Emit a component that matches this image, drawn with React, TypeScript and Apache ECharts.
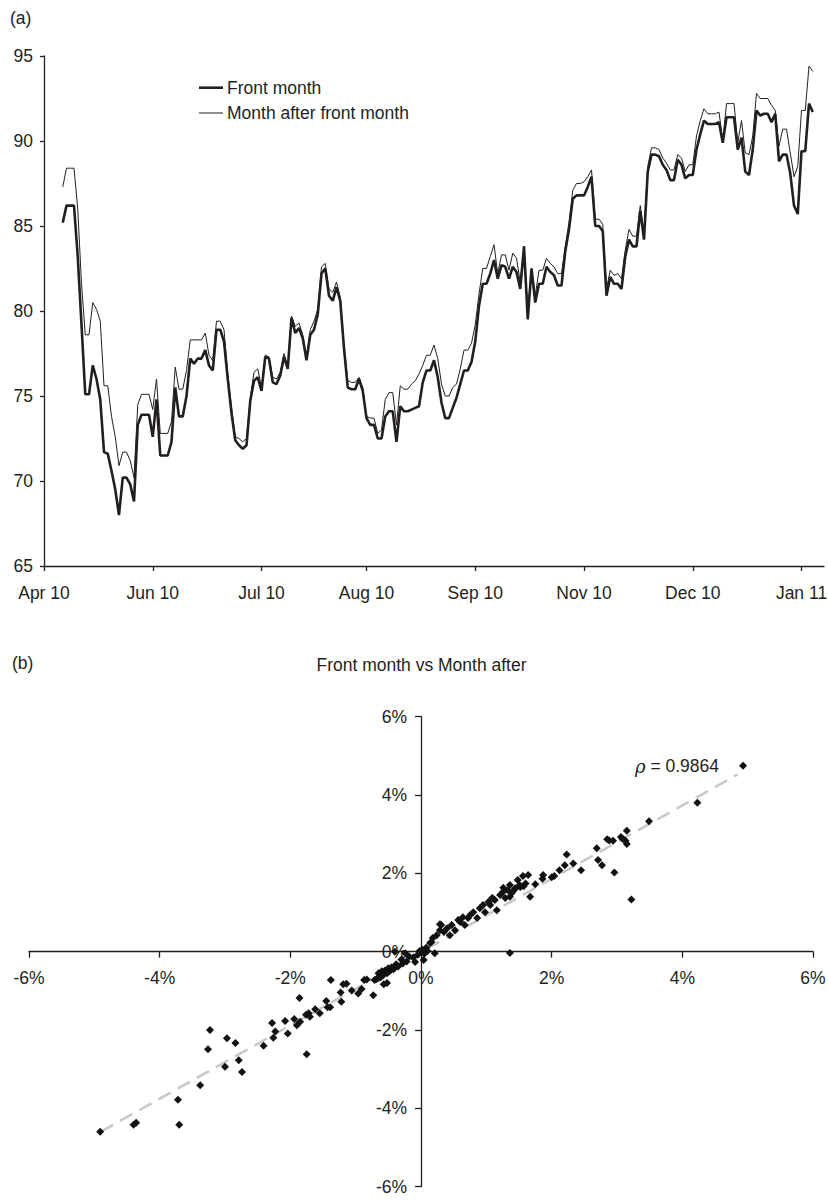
import React, { useEffect, useRef } from 'react';
import * as echarts from 'echarts';

const FONT = '"Liberation Sans", Arial, Helvetica, sans-serif';
const INK = '#231f20';

// ---------- (a) price series ----------
const seriesNames = ['Front month', 'Month after front month'];
const dayCount = 209; // trading-day categories on the axis
const leadBlank = 5; // categories before the first observation
const tickIdx = [0, 29, 58, 86, 115, 144, 173, 202];
const tickLabels = ['Apr 10', 'Jun 10', 'Jul 10', 'Aug 10', 'Sep 10', 'Nov 10', 'Dec 10', 'Jan 11'];
const yTicks = { min: 65, max: 95, step: 5 };

const frontMonth = [
  85.2, 86.2, 86.2, 86.2, 83.2, 79.2, 75.1, 75.1, 76.8, 76.0,
  74.8, 71.7, 71.6, 70.6, 69.5, 68.0, 70.2, 70.2, 69.8, 68.8,
  73.3, 73.9, 73.9, 73.9, 72.6, 74.8, 71.5, 71.5, 71.5, 72.3,
  75.5, 73.8, 73.8, 75.0, 77.2, 76.9, 77.2, 77.2, 77.7, 76.8,
  76.5, 78.9, 78.9, 78.2, 76.0, 74.0, 72.4, 72.1, 71.9, 72.1,
  74.7, 75.9, 76.1, 75.3, 77.3, 77.2, 75.8, 75.7, 76.2, 77.3,
  76.6, 79.6, 78.7, 79.0, 78.4, 77.1, 78.6, 78.9, 79.8, 82.2,
  82.5, 80.9, 80.6, 81.4, 80.6, 77.8, 75.5, 75.4, 75.4, 76.0,
  75.3, 73.7, 73.3, 73.3, 72.5, 72.5, 73.8, 74.1, 74.1, 72.3,
  74.4, 74.1, 74.1, 74.2, 74.3, 74.4, 75.8, 76.5, 76.5, 77.1,
  76.1, 74.6, 73.7, 73.7, 74.3, 74.9, 75.7, 76.5, 76.5, 77.0,
  78.2, 80.3, 81.6, 81.6, 82.2, 83.0, 81.9, 82.7, 82.6, 81.9,
  82.6, 82.3, 81.3, 83.8, 79.5, 82.5, 80.5, 81.6, 81.6, 82.6,
  82.3, 82.1, 81.5, 81.5, 83.5, 84.8, 86.6, 86.8, 86.8, 86.8,
  87.3, 87.9, 85.0, 85.0, 84.7, 80.9, 82.0, 81.6, 81.6, 81.3,
  83.2, 84.2, 83.8, 83.8, 85.9, 84.2, 88.2, 89.2, 89.2, 89.1,
  88.6, 88.3, 87.7, 87.7, 88.9, 88.6, 87.8, 88.0, 88.0, 89.5,
  90.4, 91.2, 91.0, 91.0, 91.0, 91.1, 89.9, 91.4, 91.4, 91.4,
  89.5, 90.2, 88.2, 88.0, 89.5, 91.8, 91.5, 91.6, 91.6, 91.1,
  91.6, 88.8, 89.2, 89.2, 88.1, 86.2, 85.7, 89.4, 89.4, 92.2, 91.7,
];

const monthAfter = [
  87.3, 88.4, 88.4, 88.4, 86.0, 81.6, 78.6, 78.6, 80.5, 80.1,
  79.4, 75.6, 75.6, 73.8, 72.6, 70.9, 71.7, 71.7, 71.2, 70.2,
  74.5, 75.1, 75.1, 75.1, 74.2, 76.0, 72.8, 72.8, 72.8, 73.5,
  76.7, 75.4, 75.4, 76.5, 78.3, 78.3, 78.3, 78.3, 78.7, 77.4,
  77.1, 79.4, 79.4, 78.9, 76.3, 74.3, 72.6, 72.5, 72.3, 72.5,
  74.9, 76.4, 76.6, 75.5, 77.4, 77.3, 76.1, 76.0, 76.4, 77.5,
  76.7, 79.7, 79.1, 79.3, 78.6, 77.3, 78.9, 79.4, 80.1, 82.6,
  82.8, 81.3, 81.1, 81.7, 80.8, 78.0, 75.9, 75.8, 75.8, 76.1,
  75.5, 73.8, 73.7, 73.7, 72.8, 73.0, 74.8, 75.2, 75.2, 73.3,
  75.6, 75.4, 75.4, 75.7, 75.9, 76.3, 76.8, 77.4, 77.4, 78.0,
  77.2, 75.7, 75.0, 75.0, 75.5, 75.7, 76.6, 77.7, 77.7, 78.1,
  79.2, 81.0, 82.5, 82.5, 83.2, 83.9, 82.2, 83.3, 83.3, 82.4,
  83.4, 83.1, 81.7, 83.8, 80.1, 82.5, 80.9, 82.4, 82.4, 83.1,
  82.8, 82.6, 82.2, 82.2, 83.8, 85.2, 87.1, 87.5, 87.5, 87.6,
  87.9, 88.3, 85.4, 85.4, 85.1, 81.3, 82.4, 82.1, 82.2, 81.9,
  83.6, 84.8, 84.4, 84.4, 86.2, 84.6, 88.5, 89.6, 89.6, 89.5,
  89.0, 88.7, 88.3, 88.3, 89.2, 89.0, 88.2, 88.6, 88.6, 90.3,
  91.2, 91.9, 91.6, 91.6, 91.6, 91.7, 90.0, 92.2, 92.2, 92.2,
  89.9, 91.2, 89.3, 89.2, 90.3, 92.8, 92.5, 92.5, 92.5, 92.1,
  91.8, 89.7, 90.7, 90.7, 89.3, 87.9, 88.5, 91.8, 91.8, 94.4, 94.1,
];

// ---------- (b) daily returns scatter (percent) ----------
const scatterTitle = 'Front month vs Month after';
const pctRange = { min: -6, max: 6, step: 2 };
const rho = 0.9864;
const fitSlope = 0.936;
const fitIntercept = -0.01;
const fitXRange = [-4.9, 4.85];

const scatterPts: number[][] = [
  [4.93, 4.75], [4.23, 3.80], [3.49, 3.33], [3.15, 3.09], [3.15, 2.75], [3.13, 2.83], [3.06, 2.93], [3.09, 2.88],
  [2.94, 2.83], [2.88, 2.84], [2.85, 2.87], [2.69, 2.64], [2.71, 2.34], [2.77, 2.21], [2.96, 2.02], [3.22, 1.33],
  [2.45, 2.08], [2.33, 2.25], [2.23, 2.48], [2.20, 2.21], [2.12, 2.08], [2.04, 1.93], [2.00, 1.90], [1.87, 1.96],
  [1.86, 1.86], [1.75, 1.72], [1.60, 1.74], [1.57, 1.67], [1.52, 1.65], [1.44, 1.60], [1.26, 1.63], [1.10, 1.36],
  [1.67, 1.40], [1.36, 1.40], [1.36, -0.03],
  [1.64, 1.96], [1.56, 1.93], [1.51, 1.70], [1.48, 1.83], [1.44, 1.62], [1.39, 1.50], [1.36, 1.70], [1.33, 1.57],
  [1.29, 1.37], [1.25, 1.52], [1.21, 1.45], [1.16, 1.06], [1.13, 1.32], [1.09, 1.37], [1.06, 1.19], [1.03, 1.27],
  [0.98, 1.01], [0.95, 1.19], [0.90, 1.11], [0.86, 0.86], [0.80, 1.01], [0.75, 0.93], [0.72, 0.86], [0.67, 0.68],
  [0.64, 0.88], [0.60, 0.76], [0.57, 0.81], [0.52, 0.55], [0.47, 0.68], [0.44, 0.42], [0.40, 0.60], [0.35, 0.50],
  [0.31, 0.68], [0.29, 0.55], [0.24, 0.42], [0.18, 0.35], [0.14, 0.22], [0.29, 0.70], [0.16, 0.25], [0.21, -0.04],
  [0.04, -0.21], [0.10, 0.02], [0.05, -0.05], [0.08, 0.10], [-0.02, 0.02], [0.02, 0.05],
  [-0.09, -0.26], [-0.24, -0.04], [-0.40, 0.00], [-0.05, -0.08], [-0.12, -0.15], [-0.18, -0.12], [-0.22, -0.25],
  [-0.28, -0.30], [-0.30, -0.20], [-0.35, -0.38], [-0.38, -0.32], [-0.42, -0.45], [-0.45, -0.40], [-0.48, -0.50],
  [-0.50, -0.42], [-0.52, -0.55], [-0.55, -0.48], [-0.58, -0.60], [-0.60, -0.50], [-0.62, -0.66], [-0.65, -0.55],
  [-0.68, -0.70], [-0.57, -0.83], [-0.52, -0.80],
  [-0.66, -0.68], [-0.71, -0.72], [-0.73, -1.11], [-0.83, -0.71], [-0.87, -0.72], [-0.91, -0.95], [-0.96, -1.07],
  [-1.06, -0.99], [-1.14, -0.82], [-1.19, -0.83], [-1.22, -1.28], [-1.23, -1.04], [-1.38, -0.72], [-1.39, -1.42],
  [-1.43, -1.42], [-1.45, -1.26], [-1.55, -1.57], [-1.62, -1.47], [-1.70, -1.66], [-1.72, -1.57], [-1.76, -1.61],
  [-1.75, -2.62], [-1.86, -1.18], [-1.85, -1.79], [-1.90, -1.88], [-1.94, -1.72], [-2.04, -2.09], [-2.08, -1.77],
  [-2.26, -2.20], [-2.23, -2.04], [-2.28, -1.82], [-2.41, -2.40], [-2.74, -3.07], [-3.00, -2.94], [-2.79, -2.77],
  [-2.84, -2.33], [-2.97, -2.21], [-3.26, -2.49], [-3.23, -2.00], [-3.38, -3.41], [-3.70, -4.42], [-3.72, -3.78],
  [-4.36, -4.37], [-4.40, -4.42], [-4.91, -4.60],
];

// layout of the two plot areas
const gridA = { left: 44, top: 56, width: 780, height: 510 };
const gridB = { left: 29, top: 716.7, width: 784, height: 470 };

export default function App() {
  const ref = useRef<HTMLDivElement>(null);

  useEffect(() => {
    if (!ref.current) return;
    const chart = echarts.init(ref.current, undefined, { renderer: 'svg' });

    const categories = Array.from({ length: dayCount }, (_, i) => String(i));
    const pad = (arr: number[]) => {
      const out: (number | null)[] = new Array(dayCount).fill(null);
      arr.forEach((v, i) => (out[leadBlank + i] = v));
      return out;
    };
    const isTick = (i: number) => tickIdx.indexOf(i) >= 0;
    const fitLine = fitXRange.map((x) => [x, fitSlope * x + fitIntercept]);

    // axes of (b) cross at zero: shift them inwards from the grid edges
    const zeroFrac = (0 - pctRange.min) / (pctRange.max - pctRange.min);
    const xAxisOffset = -gridB.height * zeroFrac;
    const yAxisOffset = -gridB.width * zeroFrac;

    const axisLine = { show: true, onZero: false, lineStyle: { color: INK, width: 1.3 } };
    const tickStyle = { color: INK, width: 1.3 };
    const labelBase = { color: INK, fontSize: 17.5, fontFamily: FONT };

    const text = (x: number, y: number, str: string, extra: any = {}) => ({
      type: 'text',
      x,
      y,
      style: {
        text: str,
        fill: INK,
        font: `17.5px ${FONT}`,
        align: 'left',
        verticalAlign: 'middle',
        ...extra,
      },
    });

    chart.setOption({
      animation: false,
      backgroundColor: '#ffffff',
      textStyle: { fontFamily: FONT },
      grid: [
        { ...gridA, containLabel: false, outerBoundsMode: 'none' },
        { ...gridB, containLabel: false, outerBoundsMode: 'none' },
      ],
      xAxis: [
        {
          type: 'category',
          gridIndex: 0,
          data: categories,
          boundaryGap: false,
          axisLine,
          axisTick: { show: true, interval: (i: number) => isTick(i), length: 5, lineStyle: tickStyle },
          axisLabel: {
            ...labelBase,
            interval: (i: number) => isTick(i),
            formatter: (_v: string, i: number) => (isTick(i) ? tickLabels[tickIdx.indexOf(i)] : ''),
            margin: 18,
          },
          splitLine: { show: false },
        },
        {
          type: 'value',
          gridIndex: 1,
          position: 'bottom',
          offset: xAxisOffset,
          min: pctRange.min,
          max: pctRange.max,
          interval: pctRange.step,
          axisLine,
          axisTick: { show: true, length: 6, lineStyle: tickStyle },
          axisLabel: { ...labelBase, formatter: '{value}%', margin: 17 },
          splitLine: { show: false },
        },
      ],
      yAxis: [
        {
          type: 'value',
          gridIndex: 0,
          min: yTicks.min,
          max: yTicks.max,
          interval: yTicks.step,
          axisLine,
          axisTick: { show: true, length: 4, lineStyle: tickStyle },
          axisLabel: { ...labelBase, margin: 11 },
          splitLine: { show: false },
        },
        {
          type: 'value',
          gridIndex: 1,
          position: 'left',
          offset: yAxisOffset,
          min: pctRange.min,
          max: pctRange.max,
          interval: pctRange.step,
          axisLine,
          axisTick: { show: true, length: 6, lineStyle: tickStyle },
          axisLabel: { ...labelBase, formatter: '{value}%', margin: 14 },
          splitLine: { show: false },
        },
      ],
      series: [
        {
          name: seriesNames[1],
          type: 'line',
          xAxisIndex: 0,
          yAxisIndex: 0,
          data: pad(monthAfter),
          symbol: 'none',
          lineStyle: { color: INK, width: 1 },
          z: 2,
        },
        {
          name: seriesNames[0],
          type: 'line',
          xAxisIndex: 0,
          yAxisIndex: 0,
          data: pad(frontMonth),
          symbol: 'none',
          lineStyle: { color: INK, width: 2.6 },
          z: 3,
        },
        {
          name: 'fit',
          type: 'line',
          xAxisIndex: 1,
          yAxisIndex: 1,
          data: fitLine,
          symbol: 'none',
          lineStyle: { color: '#c8c8c8', width: 2.5, type: [14, 8] },
          z: 1,
        },
        {
          name: 'returns',
          type: 'scatter',
          xAxisIndex: 1,
          yAxisIndex: 1,
          data: scatterPts,
          symbol: 'diamond',
          symbolSize: 8,
          itemStyle: { color: '#111111', opacity: 1 },
          z: 3,
        },
      ],
      graphic: [
        text(10, 18, '(a)'),
        text(12, 663, '(b)'),
        text(421.5, 665, scatterTitle, { align: 'center' }),
        {
          type: 'line',
          shape: { x1: 199, y1: 87.7, x2: 223, y2: 87.7 },
          style: { stroke: INK, lineWidth: 2.6 },
        },
        text(227, 87.7, seriesNames[0]),
        {
          type: 'line',
          shape: { x1: 199, y1: 113, x2: 223, y2: 113 },
          style: { stroke: INK, lineWidth: 1 },
        },
        text(227, 113, seriesNames[1]),
        {
          type: 'text',
          x: 635,
          y: 766,
          style: {
            text: '{r|ρ} = ' + rho.toFixed(4),
            fill: INK,
            font: `17.5px ${FONT}`,
            verticalAlign: 'middle',
            rich: { r: { fontStyle: 'italic', fontFamily: '"DejaVu Serif", serif', fontSize: 18, fill: INK } },
          },
        },
      ],
    });

    return () => chart.dispose();
  }, []);

  return (
    <div
      ref={ref}
      style={{ position: 'absolute', left: 0, top: 0, width: 828, height: 1201, background: '#fff' }}
    />
  );
}
